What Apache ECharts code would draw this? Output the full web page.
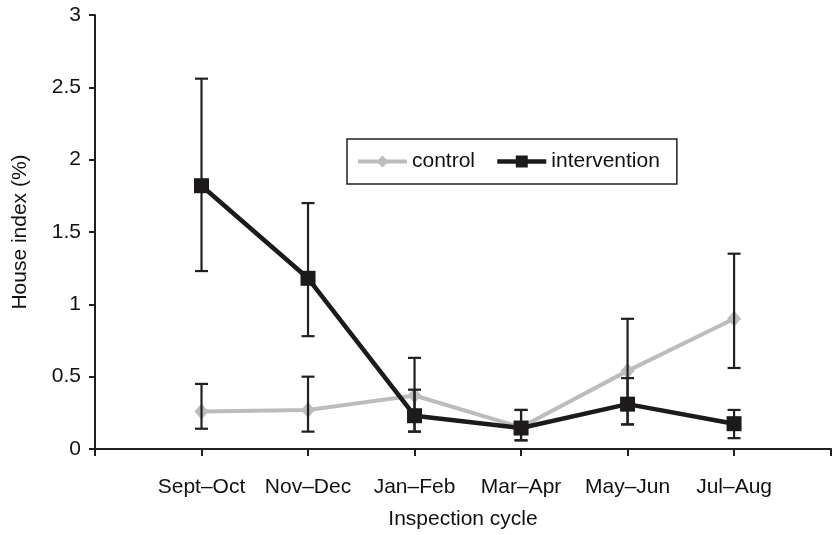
<!DOCTYPE html>
<html><head><meta charset="utf-8">
<script src="https://cdn.jsdelivr.net/npm/echarts@6/dist/echarts.min.js"></script>
<style>html,body{margin:0;padding:0;background:#fff}#c{width:834px;height:535px}</style>
</head><body><div id="c"></div>
<script>
var categories = ['Sept\u2013Oct','Nov\u2013Dec','Jan\u2013Feb','Mar\u2013Apr','May\u2013Jun','Jul\u2013Aug'];
var yTicks = [0, 0.5, 1, 1.5, 2, 2.5, 3];
var controlValues = [0.26, 0.27, 0.37, 0.15, 0.54, 0.90];
var controlUpper  = [0.45, 0.50, 0.63, 0.27, 0.90, 1.35];
var controlLower  = [0.14, 0.12, 0.12, 0.06, 0.17, 0.56];
var interventionValues = [1.82, 1.18, 0.23, 0.145, 0.31, 0.175];
var interventionUpper  = [2.56, 1.70, 0.41, 0.27, 0.49, 0.27];
var interventionLower  = [1.23, 0.78, 0.12, 0.06, 0.17, 0.075];

var FONT = 'Liberation Sans, Arial, sans-serif';
var INK = '#231f20';
var FS = 21;
function pts(vals){ return vals.map(function(v,i){ return [i+1, v]; }); }
function errData(up, lo){ return up.map(function(u,i){ return [i+1, lo[i], u]; }); }

function renderErr(params, api){
  var x = api.value(0);
  var lo = api.coord([x, api.value(1)]);
  var hi = api.coord([x, api.value(2)]);
  var hw = 6.5;
  var st = {stroke: INK, lineWidth: 2.2};
  return {type:'group', children:[
    {type:'line', shape:{x1:lo[0], y1:lo[1], x2:hi[0], y2:hi[1]}, style:st},
    {type:'line', shape:{x1:hi[0]-hw, y1:hi[1], x2:hi[0]+hw, y2:hi[1]}, style:st},
    {type:'line', shape:{x1:lo[0]-hw, y1:lo[1], x2:lo[0]+hw, y2:lo[1]}, style:st}
  ]};
}

var chart = echarts.init(document.getElementById('c'), null, {renderer:'canvas'});
chart.setOption({
  animation:false,
  backgroundColor:'#fff',
  grid:{left:95, right:0, top:15, bottom:77, containLabel:false},
  legend:{
    left:347, top:139,
    padding:[12,17,12,9],
    itemGap:20, itemWidth:49, itemHeight:15,
    borderColor:INK, borderWidth:1.5,
    textStyle:{fontFamily:FONT, fontSize:FS, color:'#111'},
    data:[{name:'control', lineStyle:{width:4}}, {name:'intervention', lineStyle:{width:4.5}}]
  },
  xAxis:{
    type:'value', min:0, max:6.91, interval:1,
    name:'Inspection cycle', nameLocation:'middle', nameGap:60,
    nameTextStyle:{fontFamily:FONT, fontSize:FS, color:'#111'},
    axisLine:{show:true, lineStyle:{color:INK, width:2}},
    axisTick:{show:true, length:7, inside:false, lineStyle:{color:INK, width:2}},
    splitLine:{show:false},
    axisLabel:{margin:28, fontFamily:FONT, fontSize:FS, color:'#111',
      formatter:function(v){ var i=Math.round(v)-1; return (i>=0&&i<categories.length)?categories[i]:''; }}
  },
  yAxis:{
    type:'value', min:0, max:3, interval:0.5,
    name:'House index (%)', nameLocation:'middle', nameGap:64, nameRotate:90,
    nameTextStyle:{fontFamily:FONT, fontSize:FS, color:'#111'},
    axisLine:{show:true, lineStyle:{color:INK, width:2}},
    axisTick:{show:true, length:6, lineStyle:{color:INK, width:2}},
    splitLine:{show:false},
    axisLabel:{margin:14, fontFamily:FONT, fontSize:FS, color:'#111',
      formatter:function(v){ return yTicks.indexOf(v)>=0 ? String(v) : ''; }}
  },
  series:[
    {name:'control', type:'line', z:2, data:pts(controlValues),
      symbol:'diamond', symbolSize:[14,16], showAllSymbol:true,
      lineStyle:{color:'#bcbcbc', width:4},
      itemStyle:{color:'#bcbcbc'}},
    {name:'controlErr', type:'custom', z:3, renderItem:renderErr,
      data:errData(controlUpper, controlLower), encode:{x:0, y:[1,2]}, silent:true},
    {name:'interventionErr', type:'custom', z:3, renderItem:renderErr,
      data:errData(interventionUpper, interventionLower), encode:{x:0, y:[1,2]}, silent:true},
    {name:'intervention', type:'line', z:4, data:pts(interventionValues),
      symbol:'rect', symbolSize:15, showAllSymbol:true,
      lineStyle:{color:'#1c1a1b', width:4.5},
      itemStyle:{color:'#1c1a1b'}}
  ]
});
</script></body></html>
